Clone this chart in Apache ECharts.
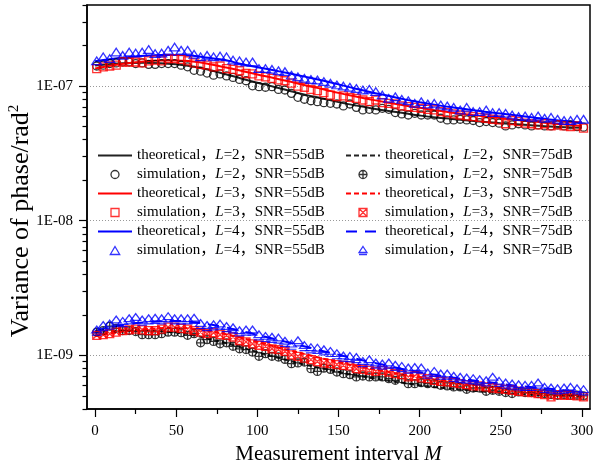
<!DOCTYPE html>
<html><head><meta charset="utf-8">
<script src="https://cdn.jsdelivr.net/npm/echarts@6/dist/echarts.min.js"></script>
<style>html,body{margin:0;padding:0;background:#fff}#c{width:611px;height:466px}</style>
</head><body><div id="c"></div><script>
// ---------- data ----------
const simM = [1,5,9,13,17,21,25,29,33,37,41,45,49,53,57,61,65,69,73,77,81,85,89,93,97,101,105,109,113,117,121,125,129,133,137,141,145,149,153,157,161,165,169,173,177,181,185,189,193,197,201,205,209,213,217,221,225,229,233,237,241,245,249,253,257,261,265,269,273,277,281,285,289,293,297,301];
const theoM = [0,10,20,30,40,50,60,70,80,90,100,110,120,130,140,150,160,170,180,190,200,210,220,230,240,250,260,270,280,290,300];

// SNR = 55 dB, units of 1e-8
const theo55L2 = [14.2,14.6,14.8,14.9,14.8,14.5,14.0,13.2,12.3,11.4,10.6,9.9,9.2,8.6,8.1,7.6,7.2,6.85,6.55,6.3,6.05,5.85,5.7,5.55,5.42,5.3,5.2,5.1,5.02,4.95,4.9];
const theo55L3 = [13.5,14.2,14.8,15.2,15.5,15.5,15.2,14.6,13.8,13.0,12.2,11.5,10.8,10.1,9.5,8.9,8.4,7.95,7.55,7.2,6.9,6.6,6.35,6.15,5.95,5.8,5.6,5.45,5.3,5.18,5.05];
const theo55L4 = [15.3,15.9,16.4,16.8,17.0,17.0,16.8,16.2,15.6,14.6,13.8,13.1,12.4,11.7,11.0,10.3,9.6,9.0,8.5,8.0,7.6,7.25,6.95,6.7,6.45,6.25,6.05,5.85,5.65,5.5,5.35];
const sim55L2 = [14.1,14.3,14.7,14.85,15.1,15.1,14.7,14.85,14.5,14.5,14.7,14.7,14.7,14.3,13.9,13.1,12.9,12.5,12.05,12.3,11.9,11.6,11.2,10.95,10.05,9.9,9.8,9.9,9.45,9.35,8.83,8.25,7.98,7.78,7.66,7.53,7.45,7.36,
  7.12,7.36,6.95,6.65,6.72,6.65,6.84,6.72,6.36,6.21,6.1,6.28,6.1,6.1,6.1,5.77,5.61,5.61,5.67,5.61,5.55,5.36,5.45,5.36,5.3,5.06,5.15,5.25,5.15,5.06,5.15,5.06,5.06,5.15,5.06,5.15,5.0,4.95];
const sim55L3 = [13.5,13.9,14.1,14.3,15.1,15.1,15.1,14.85,15.4,15.6,15.4,16.0,16.0,15.8,15.4,14.85,14.5,14.3,13.9,14.1,13.5,13.3,13.0,12.4,12.3,11.9,11.7,11.4,11.1,10.95,10.5,10.0,9.8,9.45,9.25,8.95,8.58,8.34,
  8.45,8.25,8.11,7.88,7.66,7.88,7.53,7.45,7.36,7.12,7.03,6.95,6.84,6.72,6.65,6.46,6.36,6.21,6.1,6.0,5.93,5.86,5.77,5.67,5.61,5.25,5.55,5.45,5.3,5.25,5.15,5.25,5.06,5.15,5.06,5.0,5.06,4.87];
const sim55L4 = [15.4,16.5,16.0,17.9,16.9,17.9,17.6,17.9,18.7,17.45,17.6,18.45,19.5,18.45,18.45,17.2,16.5,16.9,16.5,16.7,16.5,15.6,15.4,15.1,15.1,13.5,13.5,13.3,13.0,12.8,12.05,11.7,11.4,11.2,11.1,10.8,10.5,10.2,
  10.0,9.8,9.6,9.35,9.45,9.1,8.58,8.11,8.34,7.98,7.78,7.45,7.66,7.36,7.45,7.24,7.12,6.95,6.65,6.95,6.46,6.46,6.65,6.36,6.36,6.28,6.1,5.93,6.0,5.86,6.0,5.77,5.86,5.67,5.55,5.55,5.67,5.67];

// SNR = 75 dB, units of 1e-10
const theo75L2 = [14.8,15.1,15.3,15.3,15.1,14.8,14.2,13.3,12.4,11.5,10.6,9.8,9.1,8.5,8.0,7.55,7.15,6.8,6.5,6.25,6.0,5.8,5.65,5.5,5.37,5.27,5.18,5.1,5.04,4.99,4.95];
const theo75L3 = [14.0,14.6,15.2,15.6,15.9,16.0,15.8,15.2,14.4,13.5,12.6,11.7,10.9,10.2,9.5,8.9,8.4,7.95,7.55,7.2,6.9,6.6,6.35,6.1,5.9,5.7,5.55,5.4,5.27,5.15,5.05];
const theo75L4 = [15.2,16.2,17.0,17.6,17.9,18.0,17.7,17.0,16.2,15.2,14.2,13.3,12.4,11.6,10.8,10.1,9.5,8.9,8.4,7.9,7.5,7.15,6.85,6.6,6.35,6.15,5.95,5.8,5.65,5.5,5.4];
const sim75L2 = [14.9,15.3,16.5,15.9,15.3,15.3,15.05,14.25,14.25,14.25,14.5,14.9,14.9,14.75,14.1,14.5,12.4,13.1,12.7,12.2,12.4,11.7,11.2,11.05,10.6,9.85,10.3,9.85,9.73,9.35,8.68,8.8,8.93,7.97,7.6,8.05,7.88,7.53,
  7.32,7.2,6.92,7.03,6.92,6.92,6.92,6.72,6.53,6.72,6.17,6.17,6.28,6.17,6.17,6.0,5.93,5.83,5.83,5.6,5.73,5.73,5.42,5.51,5.42,5.3,5.21,5.36,5.3,5.3,5.21,5.21,5.12,5.06,5.12,5.06,5.06,5.0];
const sim75L3 = [14.1,14.25,14.5,14.9,15.3,15.5,15.7,15.5,15.3,15.3,15.7,16.2,16.2,15.9,15.7,15.3,14.9,14.5,14.75,14.25,14.1,13.7,12.9,12.6,12.2,11.9,11.7,11.2,11.05,10.7,10.1,9.85,9.55,9.3,9.0,8.8,8.68,8.55,
  8.44,8.35,7.97,7.88,7.75,7.62,7.75,7.53,7.32,7.2,6.92,7.03,6.8,6.72,6.53,6.42,6.35,6.28,6.17,6.07,5.93,5.93,5.83,5.73,5.67,5.6,5.51,5.42,5.36,5.3,5.21,5.12,4.92,5.12,5.06,5.06,5.0,4.92];
const sim75L4 = [15.3,16.5,16.9,18.1,17.7,18.5,18.9,18.1,18.5,18.7,18.5,19.2,18.5,18.5,18.5,18.7,17.1,16.5,16.7,16.9,16.2,15.9,15.1,15.3,15.3,14.1,13.7,13.5,13.3,12.6,12.0,12.7,11.7,11.3,11.2,10.9,10.6,10.2,
  9.8,9.73,9.55,8.93,9.18,8.68,8.55,8.68,8.35,8.2,7.97,8.05,7.97,7.32,7.53,7.2,7.2,6.92,6.8,6.72,6.65,6.53,6.42,6.8,6.35,6.17,6.07,6.0,5.93,5.93,6.17,5.73,5.67,5.6,5.67,5.73,5.6,5.51];

// axis ticks / labels
const xMajorTicks = [0,50,100,150,200,250,300];
const xMinorTicks = [25,75,125,175,225,275];
const yMajorExp = [-9,-8,-7];
const yTickLabels = ['1E-09','1E-08','1E-07'];
const yMinorTicks = [4e-10,5e-10,6e-10,7e-10,8e-10,9e-10,2e-9,3e-9,4e-9,5e-9,6e-9,7e-9,8e-9,9e-9,2e-8,3e-8,4e-8,5e-8,6e-8,7e-8,8e-8,9e-8,2e-7,3e-7,4e-7];
const yMin = 4e-10, yMax = 4e-7, xMin = -5, xMax = 305;

// ---------- chart ----------
const FONT = '"Liberation Serif","Times New Roman","Noto Sans CJK SC",serif';
const S55 = 1e-8, S75 = 1e-10;
const SYM_RECT = 'path://M0,0L20,0L20,20L0,20Z';
const SYM_TRI = 'path://M10,0L20,17L0,17Z';
const SYM_CPLUS = 'path://M10,0A10,10 0 0,1 10,20A10,10 0 0,1 10,0ZM0,10L20,10M10,0L10,20';
const SYM_RECTX = 'path://M0,0L20,0L20,20L0,20ZM0,0L20,20M20,0L0,20';
const SYM_TRIL = 'path://M10,0L20,15L0,15ZM0,20L20,20';

function theo(name, arr, scale, color, type) {
  return {name, type:'line', smooth:true, symbol:'none', z:2,
    lineStyle:{color, width:2, type}, itemStyle:{color},
    data: theoM.map((m,i)=>[m, arr[i]*scale])};
}
function sim(name, arr, scale, symbol, size, color) {
  return {name, type:'scatter', symbol, symbolSize:size, symbolKeepAspect:true, z:3,
    itemStyle:{color:'rgba(255,255,255,0)', borderColor:color, borderWidth:1.3},
    data: simM.map((m,i)=>[m, arr[i]*scale])};
}
const N = (t,L,s)=> t+'，L='+L+'，SNR='+s+'dB';
const series = [
  theo(N('theoretical',2,55), theo55L2, S55, '#222', 'solid'),
  sim(N('simulation',2,55), sim55L2, S55, 'circle', 8, '#000'),
  theo(N('theoretical',3,55), theo55L3, S55, '#f00', 'solid'),
  sim(N('simulation',3,55), sim55L3, S55, SYM_RECT, 8, '#f00'),
  theo(N('theoretical',4,55), theo55L4, S55, '#00f', 'solid'),
  sim(N('simulation',4,55), sim55L4, S55, SYM_TRI, [10,9], '#00f'),
  theo(N('theoretical',2,75), theo75L2, S75, '#222', [5,3]),
  sim(N('simulation',2,75), sim75L2, S75, SYM_CPLUS, 8, '#000'),
  theo(N('theoretical',3,75), theo75L3, S75, '#f00', [5,3]),
  sim(N('simulation',3,75), sim75L3, S75, SYM_RECTX, 8, '#f00'),
  theo(N('theoretical',4,75), theo75L4, S75, '#00f', [11,8]),
  sim(N('simulation',4,75), sim75L4, S75, SYM_TRIL, [10,9], '#00f'),
];

const legendText = {
  fontFamily: FONT, fontSize: 15, color: '#000', lineHeight: 19,
  rich: {
    n: {fontFamily: FONT, fontSize: 15, color: '#000', lineHeight: 19},
    i: {fontFamily: FONT, fontSize: 15, color: '#000', lineHeight: 19, fontStyle: 'italic'}
  }
};
function legendFmt(name) {
  const m = name.match(/^(\w+)，L=(\d)，(.*)$/);
  return '{n|' + m[1] + '，}{i|L}{n|=' + m[2] + '，' + m[3] + '}';
}
function legendData(snr) {
  return series.filter(s => s.name.endsWith(snr + 'dB')).map(s =>
    s.type === 'line' ? {name: s.name, itemStyle: {opacity: 0}} : {name: s.name});
}
function legend(left, snr) {
  return {orient:'vertical', left, top:146, padding:0, itemGap:0, itemWidth:34, itemHeight:8,
    selectedMode:false, symbolKeepAspect:true, textStyle: legendText, formatter: legendFmt,
    itemStyle: {borderWidth: 1.3}, data: legendData(snr)};
}

const axisLineStyle = {color:'#000', width:1.5};
const tickStyle = {color:'#000', width:1.2};
const option = {
  animation: false,
  backgroundColor: '#fff',
  grid: {left:87, right:21, top:5, bottom:57, show:true, borderColor:'#000', borderWidth:1.5,
    backgroundColor:'rgba(0,0,0,0)', containLabel:false, outerBoundsMode:'none'},
  legend: [legend(97, 55), legend(345, 75)],
  xAxis: [
    {type:'value', min:xMin, max:xMax, position:'bottom',
      axisLine:{show:true, onZero:false, lineStyle:axisLineStyle},
      axisTick:{show:true, inside:false, length:8, customValues:xMajorTicks, lineStyle:tickStyle},
      axisLabel:{customValues:xMajorTicks, fontFamily:FONT, fontSize:15, color:'#000', margin:15},
      splitLine:{show:false},
      name:'{n|Measurement interval }{i|M}', nameLocation:'middle', nameGap:20,
      nameTextStyle:{fontFamily:FONT, fontSize:21, color:'#000',
        rich:{n:{fontFamily:FONT, fontSize:21, color:'#000'}, i:{fontFamily:FONT, fontSize:21, color:'#000', fontStyle:'italic'}}}},
    {type:'value', min:xMin, max:xMax, position:'bottom',
      axisLine:{show:false, onZero:false}, axisLabel:{show:false}, splitLine:{show:false},
      axisTick:{show:true, inside:false, length:5, customValues:xMinorTicks, lineStyle:tickStyle}}
  ],
  yAxis: [
    {type:'log', logBase:10, min:yMin, max:yMax, position:'left',
      axisLine:{show:true, onZero:false, lineStyle:axisLineStyle},
      axisTick:{show:false}, axisLabel:{show:false}, splitLine:{show:false}, minorTick:{show:false},
      name:'{n|Variance of phase/rad}{s|2}', nameLocation:'middle', nameGap:51,
      nameTextStyle:{fontFamily:FONT, fontSize:26, color:'#000', padding:[0,28,0,0],
        rich:{n:{fontFamily:FONT, fontSize:26, color:'#000', lineHeight:29},
              s:{fontFamily:FONT, fontSize:15, color:'#000', lineHeight:29, verticalAlign:'top'}}}},
    {type:'value', min:Math.log10(yMin), max:Math.log10(yMax), position:'left',
      axisLine:{show:false, onZero:false},
      axisTick:{show:true, inside:false, length:8, customValues:yMajorExp, lineStyle:tickStyle},
      axisLabel:{customValues:yMajorExp, fontFamily:FONT, fontSize:15, color:'#000', margin:14,
        formatter: v => yTickLabels[yMajorExp.indexOf(Math.round(v))] || ''},
      splitLine:{show:true, lineStyle:{color:'#999', width:1, type:[1,2]}}},
    {type:'value', min:Math.log10(yMin), max:Math.log10(yMax), position:'left',
      axisLine:{show:false, onZero:false}, axisLabel:{show:false}, splitLine:{show:false},
      axisTick:{show:true, inside:false, length:4.5, customValues:yMinorTicks.map(v => Math.log10(v)), lineStyle:tickStyle}}
  ],
  series: series
};
const chart = echarts.init(document.getElementById('c'));
chart.setOption(option);
</script></body></html>
